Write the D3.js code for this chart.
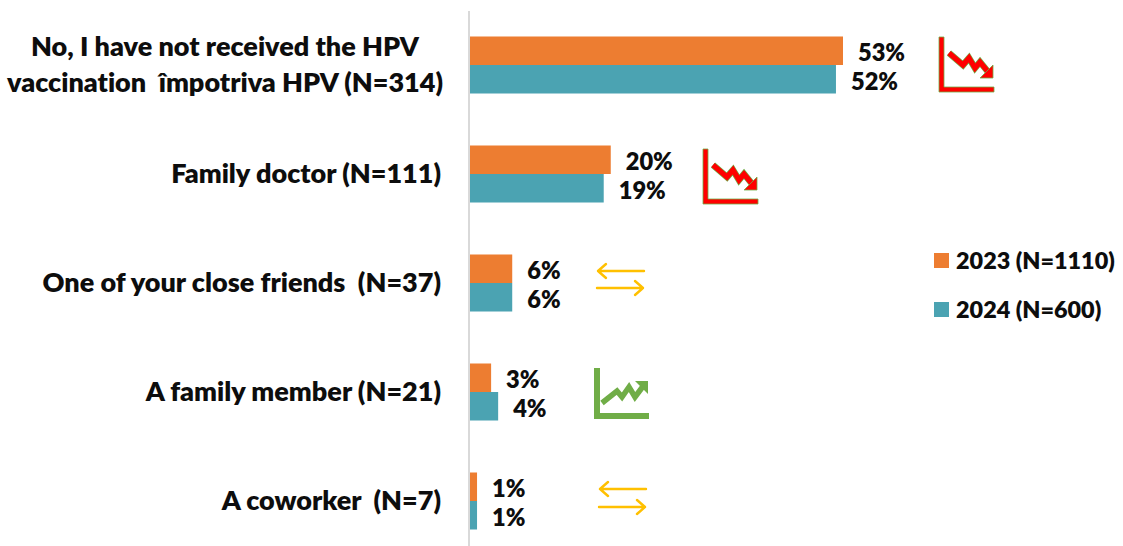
<!DOCTYPE html>
<html>
<head>
<meta charset="utf-8">
<script src="https://cdn.jsdelivr.net/npm/d3@7"></script>
<style>
  html, body { margin: 0; padding: 0; background: #fff; }
  svg { display: block; }
  text { font-family: Lato, "Open Sans", sans-serif; font-weight: 800; fill: #0d0d0d; white-space: pre; font-variant-ligatures: none; }
</style>
</head>
<body>
<svg width="1123" height="546"></svg>
<script>
const categories = [
  ['No, I have not received the HPV', 'vaccination  împotriva HPV (N=314)'],
  ['Family doctor (N=111)'],
  ['One of your close friends  (N=37)'],
  ['A family member (N=21)'],
  ['A coworker  (N=7)']
];
const seriesNames = ['2023 (N=1110)', '2024 (N=600)'];
const values2023 = [53, 20, 6, 3, 1];
const values2024 = [52, 19, 6, 4, 1];
const trends = ['down', 'down', 'same', 'up', 'same'];

const colors = ['#ED7D31', '#4BA3B2'];
const fontSize = 23.6;

const svg = d3.select('svg');

const xScale = d3.scaleLinear().domain([0, 53]).range([470, 843]);
const yScale = d3.scaleBand()
  .domain(d3.range(categories.length))
  .range([10.5, 555.5])
  .paddingInner(0.477)
  .paddingOuter(0.2385);
const innerScale = d3.scaleBand().domain([0, 1]).range([0, yScale.bandwidth()]);

// bars and value labels
[values2023, values2024].forEach((values, s) => {
  svg.append('g').selectAll('rect')
    .data(values)
    .enter()
    .append('rect')
    .attr('x', xScale(0))
    .attr('y', (d, i) => yScale(i) + innerScale(s))
    .attr('width', d => xScale(d) - xScale(0))
    .attr('height', innerScale.bandwidth())
    .attr('fill', colors[s]);

  svg.append('g').selectAll('text')
    .data(values)
    .enter()
    .append('text')
    .attr('x', d => xScale(d) + 15)
    .attr('y', (d, i) => yScale(i) + innerScale(s) + innerScale.bandwidth() / 2 + 2)
    .attr('dy', '0.35em')
    .attr('font-size', fontSize)
    .text(d => d + '%');
});

// category axis, the long label is two centred lines
const axis = svg.append('g').attr('transform', 'translate(469,0)');
axis.append('line')
  .attr('y1', 11).attr('y2', 546)
  .attr('stroke', '#d9d9d9').attr('stroke-width', 2);

const labels = svg.append('g').selectAll('text')
  .data(categories)
  .enter()
  .append('text')
  .attr('font-size', 27)
  .attr('text-anchor', d => d.length > 1 ? 'middle' : 'end')
  .attr('transform', (d, i) => `translate(${d.length > 1 ? 225 : 441},${yScale(i) + yScale.bandwidth() / 2})`);
labels.each(function (d) {
  d3.select(this).selectAll('tspan')
    .data(d)
    .enter()
    .append('tspan')
    .attr('x', 0)
    .attr('y', (line, j) => (j - (d.length - 1) / 2) * 36)
    .attr('dy', '0.35em')
    .text(line => line);
});

// trend icons, one path set per direction
const downShape = 'M0,0H5V50H55V55H0Z';
const upShape = 'M0,0H6V45H55V51H0Z';
const downLine = 'M10,16L24,28L30,21L36,31L41,25L50,36';
const downHead = 'M54,41V28L41,41Z';
const upLine = 'M8,35L23,23L28,29L35,19L41,29L50,17';
const upHead = 'M54,13V26L41,13Z';
const iconX = [939, 703, 597, 594, 599];
const iconY = [37, 149, 271, 368, 489];
const arrowGap = [0, 0, 17, 0, 18];

trends.forEach((t, i) => {
  const g = svg.append('g').attr('transform', `translate(${iconX[i]},${iconY[i]})`);
  if (t === 'same') {
    const w = 47;
    g.append('path')
      .attr('d', `M${w},0H1M9,-7L1,0L9,7M0,${arrowGap[i]}H${w - 1}M${w - 9},${arrowGap[i] - 7}L${w - 1},${arrowGap[i]}L${w - 9},${arrowGap[i] + 7}`)
      .attr('fill', 'none')
      .attr('stroke', '#FFC000')
      .attr('stroke-width', 2.4)
      .attr('stroke-linecap', 'round')
      .attr('stroke-linejoin', 'round');
    return;
  }
  if (t === 'up') {
    g.append('path').attr('d', upShape).attr('fill', '#70AD47');
    g.append('path').attr('d', upLine).attr('fill', 'none').attr('stroke', '#70AD47').attr('stroke-width', 5.5);
    g.append('path').attr('d', upHead).attr('fill', '#70AD47');
    return;
  }
  g.append('path').attr('d', downShape).attr('fill', '#FF0000').attr('stroke', '#70AD47').attr('stroke-width', 0.8);
  g.append('path').attr('d', downLine).attr('fill', 'none').attr('stroke', '#70AD47').attr('stroke-width', 6.6);
  g.append('path').attr('d', downLine).attr('fill', 'none').attr('stroke', '#FF0000').attr('stroke-width', 5.2);
  g.append('path').attr('d', downHead).attr('fill', '#FF0000').attr('stroke', '#70AD47').attr('stroke-width', 0.8);
});

// legend
const legendY = d3.scalePoint().domain(seriesNames).range([260.5, 309.5]);
const legend = svg.append('g').selectAll('g')
  .data(seriesNames)
  .enter()
  .append('g')
  .attr('transform', d => `translate(934,${legendY(d)})`);
legend.append('rect')
  .attr('y', -7.5).attr('width', 15).attr('height', 15)
  .attr('fill', (d, i) => colors[i]);
legend.append('text')
  .attr('x', 22).attr('dy', '0.35em')
  .attr('font-size', 23.4)
  .text(d => d);
</script>
</body>
</html>
